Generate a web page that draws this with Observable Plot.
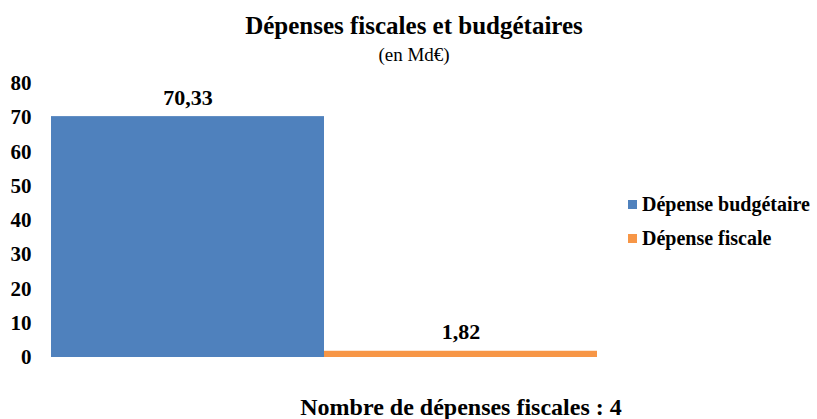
<!DOCTYPE html>
<html>
<head>
<meta charset="utf-8">
<script src="https://cdn.jsdelivr.net/npm/d3@7"></script>
<script src="https://cdn.jsdelivr.net/npm/@observablehq/plot@0.6"></script>
<style>
  body { margin: 0; background: #fff; }
  #wrap { position: relative; width: 817px; height: 419px; font-family: "Liberation Serif", "Times New Roman", serif; color: #000; overflow: hidden; }
  .abs { position: absolute; white-space: nowrap; line-height: 1; }
  #title { left: 0; width: 828px; text-align: center; top: 13px; font-size: 25px; font-weight: bold; }
  #subtitle { left: 0; width: 828px; text-align: center; top: 45px; font-size: 19px; }
  #caption { left: 250px; width: 422px; text-align: center; top: 395px; font-size: 24px; font-weight: bold; }
  .leg { left: 628px; font-size: 20px; font-weight: bold; display: flex; align-items: center; }
  .sw { width: 9px; height: 9px; margin-right: 5px; display: inline-block; }
</style>
</head>
<body>
<div id="wrap">
  <div id="chart"></div>
  <div class="abs" id="title">Dépenses fiscales et budgétaires</div>
  <div class="abs" id="subtitle">(en Md€)</div>
  <div class="abs" id="caption">Nombre de dépenses fiscales : 4</div>
  <div id="legend"></div>
</div>
<script>
const categories = ["Dépense budgétaire", "Dépense fiscale"];
const values = [70.33, 1.82];
const labels = ["70,33", "1,82"];
const colors = ["#4F81BD", "#F79646"];
const yTicks = [0, 10, 20, 30, 40, 50, 60, 70, 80];
const captionText = "Nombre de dépenses fiscales : 4";

const data = categories.map((c, i) => ({cat: c, value: values[i], label: labels[i]}));

const plot = Plot.plot({
  width: 817,
  height: 419,
  marginLeft: 50,
  marginRight: 220,
  marginTop: 83,
  marginBottom: 62,
  style: {fontFamily: "'Liberation Serif', 'Times New Roman', serif", background: "transparent"},
  x: {domain: categories, padding: 0, axis: null},
  y: {domain: [0, 80], ticks: yTicks, label: null},
  color: {domain: categories, range: colors},
  marks: [
    Plot.barY(data, {x: "cat", y: "value", fill: "cat", inset: 0}),
    Plot.axisY({ticks: yTicks, tickSize: 0, tickPadding: 19, label: null, fontSize: 21, fontWeight: "bold", fill: "#000"}),
    Plot.text(data, {x: "cat", y: "value", text: "label", dy: -19, fontSize: 22, fontWeight: "bold", fill: "#000"})
  ]
});
plot.querySelectorAll("text").forEach(t => t.style.fontWeight = "bold");
document.getElementById("chart").appendChild(plot);

const legend = document.getElementById("legend");
const legTops = [194, 228];
categories.forEach((c, i) => {
  const d = document.createElement("div");
  d.className = "abs leg";
  d.style.top = legTops[i] + "px";
  d.innerHTML = `<span class="sw" style="background:${colors[i]}"></span>`;
  d.appendChild(document.createTextNode(c));
  legend.appendChild(d);
});
</script>
</body>
</html>
